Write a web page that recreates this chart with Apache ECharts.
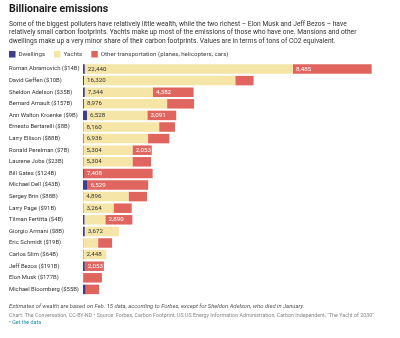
<!DOCTYPE html>
<html><head><meta charset="utf-8">
<script src="https://cdn.jsdelivr.net/npm/echarts@6/dist/echarts.min.js"></script>
<style>html,body{margin:0;padding:0;background:#fff}#c{width:400px;height:338px}</style>
</head><body><div id="c"></div>
<script>
const categories = ["Roman Abramovich ($14B)","David Geffen ($10B)","Sheldon Adelson ($35B)","Bernard Arnault ($157B)","Ann Walton Kroenke ($9B)","Ernesto Bertarelli ($8B)","Larry Ellison ($88B)","Ronald Perelman ($7B)","Laurene Jobs ($23B)","Bill Gates ($124B)","Michael Dell ($43B)","Sergey Brin ($88B)","Larry Page ($91B)","Tilman Fertitta ($4B)","Giorgio Armani ($8B)","Eric Schmidt ($19B)","Carlos Slim ($64B)","Jeff Bezos ($191B)","Elon Musk ($177B)","Michael Bloomberg ($55B)"];
const dwellings = [200,120,200,100,430,60,80,60,60,100,500,40,60,180,200,40,60,200,40,300];
const yachts = [22440,16320,7344,8976,6528,8160,6936,5304,5304,0,0,4896,3264,2250,3672,1600,2448,0,0,0];
const other = [8485,1950,4382,2900,3091,1700,2300,2053,1970,7408,6529,1970,1930,2890,0,1500,0,2053,2000,1430];
const yachtLabel = [1,1,1,1,1,1,1,1,1,0,0,1,1,0,1,0,1,0,0,0];
const otherLabel = [1,0,1,0,1,0,0,1,0,1,1,0,0,1,0,0,0,1,0,0];

const fmt = v => Number(v).toLocaleString('en-US');
const FONT = 'Roboto';
const chart = echarts.init(document.getElementById('c'), null, {renderer:'canvas'});
chart.setOption({
  animation:false,
  textStyle:{fontFamily:FONT},
  title:{text:'Billionaire emissions',left:9,top:3.5,padding:0,textStyle:{fontFamily:FONT,fontSize:10.6,fontWeight:'bold',color:'#1a1a1a'}},
  graphic:[
    {type:'text',left:9,top:20.5,style:{text:'Some of the biggest polluters have relatively little wealth, while the two richest – Elon Musk and Jeff Bezos – have\nrelatively small carbon footprints. Yachts make up most of the emissions of those who have one. Mansions and other\ndwellings make up a very minor share of their carbon footprints. Values are in terms of tons of CO2 equivalent.',font:'6.7px Roboto',fill:'#333',lineHeight:8.2}},
    {type:'text',left:9,top:303.5,style:{text:'Estimates of wealth are based on Feb. 15 data, according to Forbes, except for Sheldon Adelson, who died in January.',font:'italic 5.85px Roboto',fill:'#555'}},
    {type:'text',left:9,top:313,style:{text:'Chart: The Conversation, CC-BY-ND • Source: Forbes, Carbon Footprint, US US Energy Information Administration, Carbon Independent, "The Yacht of 2030"',font:'5.35px Roboto',fill:'#888'}},
    {type:'text',left:9,top:320.5,style:{text:'• Get the data',font:'5.35px Roboto',fill:'#1f8fb0'}}
  ],
  legend:{left:9,top:51,padding:0,itemWidth:6.5,itemHeight:6.5,itemGap:9,icon:'rect',textStyle:{fontFamily:FONT,fontSize:6.2,color:'#444',padding:[0,0,0,-2]},data:['Dwellings','Yachts','Other transportation (planes, helicopters, cars)']},
  grid:{left:83,right:10,top:63.2,bottom:42.8,containLabel:false},
  xAxis:{type:'value',min:0,max:33100,show:false},
  yAxis:{type:'category',inverse:true,data:categories,axisLine:{show:false},axisTick:{show:false},
    axisLabel:{align:'left',margin:74,fontSize:5.9,color:'#333',fontFamily:FONT}},
  series:[
    {name:'Dwellings',type:'bar',stack:'t',barWidth:9.5,itemStyle:{color:'#3d3f8e'},data:dwellings},
    {name:'Yachts',type:'bar',stack:'t',barWidth:9.5,itemStyle:{color:'#f5e5a7'},
      data:yachts.map((v,i)=>({value:v,label:{show:!!yachtLabel[i]}})),
      label:{position:'insideLeft',distance:3,fontSize:6.2,color:'#333',fontFamily:FONT,formatter:p=>fmt(p.value)}},
    {name:'Other transportation (planes, helicopters, cars)',type:'bar',stack:'t',barWidth:9.5,itemStyle:{color:'#e0655f'},
      data:other.map((v,i)=>({value:v,label:{show:!!otherLabel[i]}})),
      label:{position:'insideLeft',distance:3,fontSize:6.2,color:'#fff',fontFamily:FONT,formatter:p=>fmt(p.value)}}
  ]
});
</script></body></html>
